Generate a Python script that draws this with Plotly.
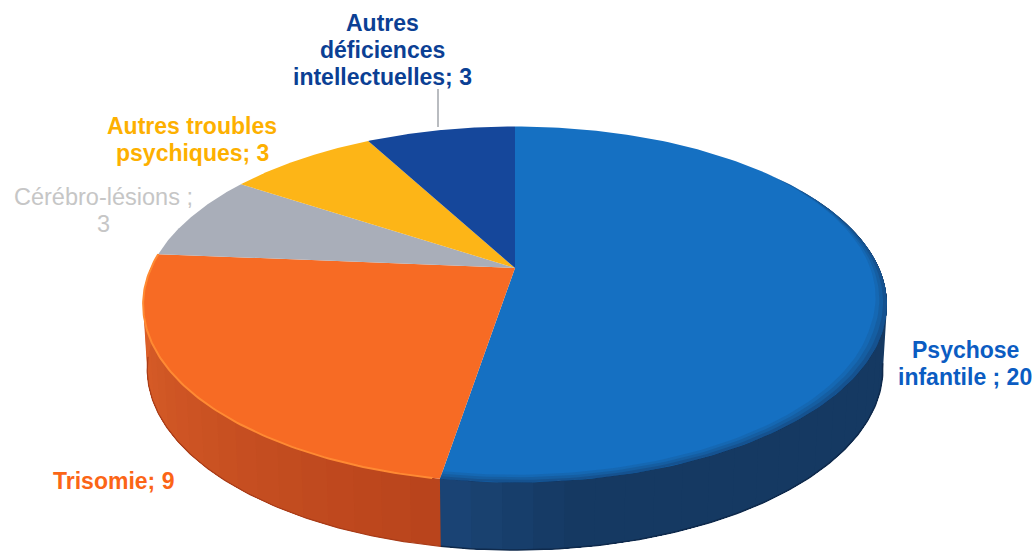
import numpy as np
import plotly.graph_objects as go

categories = ["Psychose infantile", "Trisomie", "Cérébro-lésions", "Autres troubles psychiques", "Autres déficiences intellectuelles"]
values = [20, 9, 3, 3, 3]
label_lines = [["Psychose", "infantile ; 20"], ["Trisomie; 9"], ["Cérébro-lésions ;", "3"],
               ["Autres troubles", "psychiques; 3"], ["Autres", "déficiences", "intellectuelles; 3"]]
top_colors = ["#1570c2", "#f76b24", "#a9aeb9", "#fdb517", "#15479b"]
label_colors = ["#0b5cc2", "#fb6516", "#c6c6c6", "#fdb000", "#0b3f94"]
label_x = [965, 113, 103, 192, 382]
label_y = [350, 481, 197, 126, 23]
label_size = [23, 23, 23.5, 23, 23]
label_bold = [True, True, False, True, True]
LINE_GAP = 27

W, H = 1035, 555
K = 0.2048
TOP = dict(cx=515, cy=268, a=364, b=170.5)
BOT = dict(cx=515, cy=332, a=360, b=173.4)


def rim(theta, g, s=1.0):
    t = np.radians(theta)
    d = 1 + K * np.cos(t)
    return g["cx"] + s * g["a"] * np.sin(t) / d, g["cy"] - s * g["b"] * np.cos(t) / d


def mix(c1, c2, f):
    a = [int(c1[i:i + 2], 16) for i in (1, 3, 5)]
    b = [int(c2[i:i + 2], 16) for i in (1, 3, 5)]
    return "rgb(%d,%d,%d)" % tuple(round(x + (y - x) * f) for x, y in zip(a, b))


def poly(x, y, color):
    return go.Scatter(x=x, y=y, mode="lines", fill="toself", fillcolor=color,
                      line=dict(width=0), hoverinfo="skip", showlegend=False)


def arc_line(t0, t1, color, width, g=TOP):
    x, y = rim(np.linspace(t0, t1, 120), g)
    return go.Scatter(x=x, y=y, mode="lines", line=dict(color=color, width=width),
                      hoverinfo="skip", showlegend=False)


fig = go.Figure()
edges = 360 * np.cumsum([0] + values) / sum(values)
split = edges[1]
trisomy_end = edges[2]

# side wall: each band runs on to the end of the slice, so bands leave no seams
bands = [(60, split, "#153962", "#1b4678", 0.85), (split, trisomy_end, "#b9441c", "#e2652b", 0.0)]
for t0, t1, c0, c1, hold in bands:
    steps = np.linspace(t0, t1, int((t1 - t0) / 4) + 2)
    for s0 in steps[:-1]:
        th = np.linspace(s0, t1, 60)
        xa, ya = rim(th, TOP)
        xb, yb = rim(th[::-1], BOT)
        f = (s0 - t0) / (t1 - t0)
        f = max(0.0, (f - hold) / (1 - hold))
        fig.add_trace(poly(np.r_[xa, xb], np.r_[ya, yb], mix(c0, c1, f)))

# dark outer edge of the base
fig.add_trace(arc_line(100, split, "#0f2a4c", 1.5, BOT))
fig.add_trace(arc_line(split, 262, "#a83c18", 1.2, BOT))

# top face
for i in range(len(values)):
    th = np.linspace(edges[i], edges[i + 1], 160)
    x, y = rim(th, TOP)
    fig.add_trace(poly(np.r_[TOP["cx"], x, TOP["cx"]], np.r_[TOP["cy"], y, TOP["cy"]], top_colors[i]))

# soft shaded edge on the blue, widening from the right towards the front
th = np.linspace(50, split, 120)
ramp = np.clip((th - 50) / 60, 0, 1)
for depth, al in [(0.036, 0.16), (0.024, 0.22), (0.012, 0.32)]:
    xa, ya = rim(th, TOP)
    xb, yb = rim(th, TOP, 1 - depth * ramp)
    fig.add_trace(poly(np.r_[xa, xb[::-1]], np.r_[ya, yb[::-1]], f"rgba(22,60,105,{al})"))
# bright bevel on the orange
fig.add_trace(arc_line(split + 1, trisomy_end, "#ff8a33", 2))

# leader line to the navy slice
fig.add_shape(type="line", x0=438, x1=438, y0=89, y1=127, line=dict(color="#8a8f96", width=1.2), layer="above")

for i, lines in enumerate(label_lines):
    for j, line in enumerate(lines):
        text = f"<b>{line}</b>" if label_bold[i] else line
        fig.add_annotation(x=label_x[i], y=label_y[i] + j * LINE_GAP, text=text, showarrow=False,
                           xanchor="center", yanchor="middle",
                           font=dict(family="Liberation Sans", size=label_size[i], color=label_colors[i]))

fig.update_xaxes(range=[0, W], visible=False, fixedrange=True)
fig.update_yaxes(range=[H, 0], visible=False, fixedrange=True)
fig.update_layout(width=W, height=H, margin=dict(l=0, r=0, t=0, b=0),
                  paper_bgcolor="white", plot_bgcolor="white", showlegend=False)
fig.write_html("out.html", config=dict(displayModeBar=False),
               post_script="document.body.style.margin='0';document.body.style.overflow='hidden';")
